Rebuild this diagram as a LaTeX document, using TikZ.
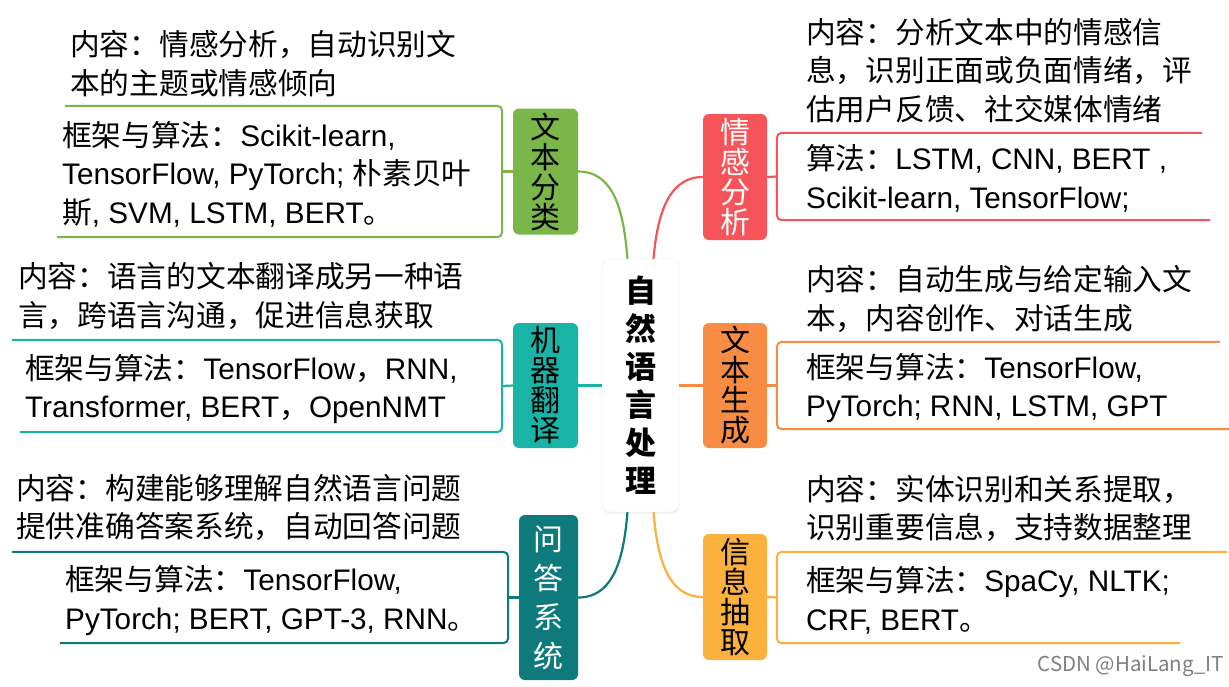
\documentclass[tikz,border=0pt]{standalone}
\usepackage{fontspec}
\setmainfont{Noto Sans CJK SC}
\newfontfamily\enfont{Liberation Sans}
\newcommand{\la}[1]{{\enfont #1}}
\usetikzlibrary{calc,shadows}
\definecolor{cGreen} {HTML}{7AB648}
\definecolor{cTeal}  {HTML}{1AB4A6}
\definecolor{cDeep}  {HTML}{0E7A7B}
\definecolor{cRed}   {HTML}{F7545A}
\definecolor{cOrange}{HTML}{F78C42}
\definecolor{cYellow}{HTML}{FAB13E}

\begin{document}
\begin{tikzpicture}[
    x=1pt,y=1pt,
    txt/.style ={anchor=west,inner sep=0pt,align=left,font=\fontsize{29.7}{38.5}\selectfont},
    root/.style={draw=black!7,fill=white,rounded corners=8pt,align=center,inner sep=0pt,
                 minimum width=77pt,minimum height=253pt,
                 font=\fontsize{31}{38}\selectfont\bfseries,
                 drop shadow={shadow xshift=0pt,shadow yshift=-1.5pt,opacity=.12}},
    topic/.style={rounded corners=6pt,align=center,inner sep=0pt,minimum width=65pt,
                 minimum height=126pt,font=\fontsize{30}{30}\selectfont},
    brk/.style ={line width=2pt,rounded corners=5pt,#1},
    lk/.style  ={line width=2.2pt,#1},
    wmk/.style ={anchor=east,inner sep=0pt,text=black!50,font=\fontsize{20.5}{24}\selectfont},
  ]
  \path[use as bounding box,fill=white] (0,0) rectangle (1229,-686);

  % ---------- ROOT ----------
  \node[root] (root) at (640.5,-385.5) {自\\然\\语\\言\\处\\理};
  \coordinate (rnw) at ($(root.north)+(-13,0)$);
  \coordinate (rne) at ($(root.north)+(13,0)$);
  \coordinate (rsw) at ($(root.south)+(-13,0)$);
  \coordinate (rse) at ($(root.south)+(13,0)$);

  % ---------- LEFT TOPICS ----------
  \node[topic,fill=cGreen] (t1) at (545.5,-171.5) {文\\本\\分\\类};
  \node[topic,fill=cTeal,minimum height=125pt] (t2) at (545.5,-385.5) {机\\器\\翻\\译};
  \node[topic,fill=cDeep,text=white,minimum width=59pt,minimum height=165pt,
        font=\fontsize{30}{39}\selectfont] (t3) at (548.5,-597.5) {问\\答\\系\\统};

  \draw[lk=cGreen] (t1.east) to[out=0,in=95] (rnw);
  \draw[lk=cTeal]  (t2.east) -- (root.west);
  \draw[lk=cDeep]  (t3.east) to[out=0,in=-95] (rsw);

  % ---------- RIGHT TOPICS ----------
  \node[topic,fill=cRed,text=white,minimum width=64pt] (s1) at (735,-177) {情\\感\\分\\析};
  \node[topic,fill=cOrange,minimum width=64pt,minimum height=125pt] (s2) at (735,-385.5) {文\\本\\生\\成};
  \node[topic,fill=cYellow,minimum width=64pt] (s3) at (735,-597) {信\\息\\抽\\取};

  \draw[lk=cRed]    (s1.west) to[out=180,in=85] (rne);
  \draw[lk=cOrange] (s2.west) -- (root.east);
  \draw[lk=cYellow] (s3.west) to[out=180,in=-85] (rse);

  % ---------- LEFT DETAILS ----------
  \node[txt] (ct1) at (70,-63.5) {内容：情感分析，自动识别文\\本的主题或情感倾向};
  \node[inner sep=0pt,minimum width=440,minimum height=131] (b1) at (282,-171.5) {};
  \node[txt] (fw1) at (62,-174) {框架与算法：\la{Scikit-learn,}\\\la{TensorFlow, PyTorch; }朴素贝叶\\斯\la{, SVM, LSTM, BERT}。};
  \draw[brk=cGreen] ($(b1.north west)+(3,0)$) -- (b1.north east) -- (b1.south east) -- ($(b1.south west)+(-5,0)$);
  \draw[lk=cGreen] (b1.east) -- (t1.west);

  \node[txt] (ct2) at (18,-296) {内容：语言的文本翻译成另一种语\\言，跨语言沟通，促进信息获取};
  \node[inner sep=0pt,minimum width=490,minimum height=92] (b2) at (257,-386) {};
  \node[txt] (fw2) at (25,-389) {框架与算法：\la{TensorFlow}，\la{RNN,}\\\la{Transformer, BERT}，\la{OpenNMT}};
  \draw[brk=cTeal] (b2.north west) -- (b2.north east) -- (b2.south east) -- ($(b2.south west)+(8,0)$);
  \draw[lk=cTeal] (b2.east) -- (t2.west);

  \node[txt] (ct3) at (16,-507.5) {内容：构建能够理解自然语言问题\\提供准确答案系统，自动回答问题};
  \node[inner sep=0pt,minimum width=496,minimum height=91] (b3) at (260,-597.5) {};
  \node[txt] (fw3) at (65,-600.5) {框架与算法：\la{TensorFlow,}\\\la{PyTorch; BERT, GPT-3, RNN}。};
  \draw[brk=cDeep] (b3.north west) -- (b3.north east) -- (b3.south east) -- ($(b3.south west)+(48,0)$);
  \draw[lk=cDeep] (b3.east) -- (t3.west);

  % ---------- RIGHT DETAILS ----------
  \node[txt] (ct4) at (806,-70.5) {内容：分析文本中的情感信\\息，识别正面或负面情绪，评\\估用户反馈、社交媒体情绪};
  \node[inner sep=0pt,minimum width=425,minimum height=87] (b4) at (989.5,-176.5) {};
  \node[txt] (fw4) at (806,-178.5) {算法：\la{LSTM, CNN, BERT ,}\\\la{Scikit-learn, TensorFlow;}};
  \draw[brk=cRed] (b4.north east) -- (b4.north west) -- (b4.south west) -- ($(b4.south east)+(8,0)$);
  \draw[lk=cRed] (s1.east) -- (b4.west);

  \node[txt] (ct5) at (806,-299) {内容：自动生成与给定输入文\\本，内容创作、对话生成};
  \node[inner sep=0pt,minimum width=443,minimum height=87] (b5) at (998.5,-385.5) {};
  \node[txt] (fw5) at (806,-388) {框架与算法：\la{TensorFlow,}\\\la{PyTorch; RNN, LSTM, GPT}};
  \draw[brk=cOrange] (b5.north east) -- (b5.north west) -- (b5.south west) -- ($(b5.south east)+(9,0)$);
  \draw[lk=cOrange] (s2.east) -- (b5.west);

  \node[txt] (ct6) at (806,-508.5) {内容：实体识别和关系提取，\\识别重要信息，支持数据整理};
  \node[inner sep=0pt,minimum width=450,minimum height=91] (b6) at (1002,-597.5) {};
  \node[txt] (fw6) at (806,-600.5) {框架与算法：\la{SpaCy, NLTK;}\\\la{CRF, BERT}。};
  \draw[brk=cYellow] (b6.north east) -- (b6.north west) -- (b6.south west) -- ($(b6.south east)+(-47,0)$);
  \draw[lk=cYellow] (s3.east) -- (b6.west);

  \node[wmk] (wm) at (1224,-666) {CSDN @HaiLang\_IT};
\end{tikzpicture}
\end{document}
